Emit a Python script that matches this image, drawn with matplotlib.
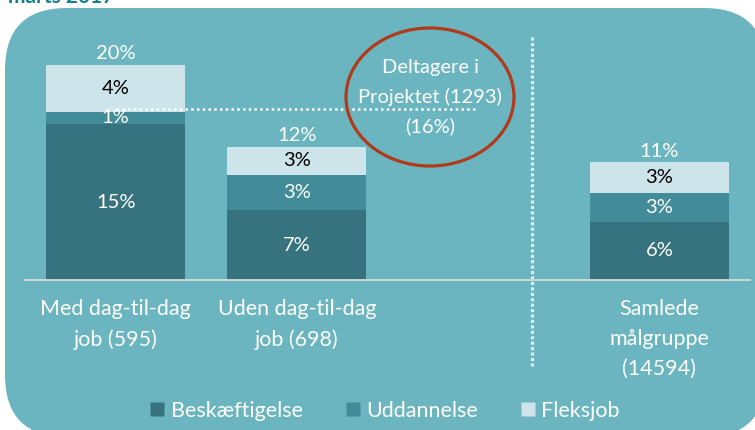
import matplotlib
matplotlib.use("Agg")
import matplotlib.pyplot as plt
from matplotlib.patches import FancyBboxPatch, Ellipse
from matplotlib.lines import Line2D
import matplotlib.transforms as mtransforms
import numpy as np

# ---- data ----
categories = ["Med dag-til-dag\njob (595)", "Uden dag-til-dag\njob (698)", "Samlede\nmålgruppe\n(14594)"]
positions = [0, 1, 3]
beskaeftigelse = [15.0, 6.7, 5.6]
uddannelse = [1.2, 3.4, 2.8]
fleksjob = [4.5, 2.7, 2.9]
lbl_besk = ["15%", "7%", "6%"]
lbl_udd = ["1%", "3%", "3%"]
lbl_fleks = ["4%", "3%", "3%"]
lbl_total = ["20%", "12%", "11%"]
series_names = ["Beskæftigelse", "Uddannelse", "Fleksjob"]
deltagere_text = "Deltagere i\nProjektet (1293)\n(16%)"
deltagere_level = 16.4
title_text = "marts 2017"

# ---- style ----
FONT = ["Lato", "DejaVu Sans"]
plt.rcParams["font.family"] = FONT
FS = 14.5      # numbers
FS_T = 15.5    # words
BG = "#6bb5c0"
C_BESK = "#37737e"
C_UDD = "#418c98"
C_FLEKS = "#cde5ea"
C_RED = "#b03a19"

W, H = 7.55, 4.30
fig = plt.figure(figsize=(W, H), dpi=100)
fig.patch.set_facecolor("white")

# rounded background panel (inches)
panel = FancyBboxPatch((0.05, -0.07), 7.61, 4.29,
                       boxstyle="round,pad=0,rounding_size=0.62",
                       transform=fig.dpi_scale_trans, facecolor=BG,
                       edgecolor="none", zorder=-5)
fig.patches.append(panel)

# title (clipped at the top, as in the source)
fig.text(8 / 755, 1 - 3 / 430, title_text, fontsize=15, fontweight="bold",
         color="#147f8f", va="baseline", ha="left", zorder=-4)

# axes: x from 25 to 750 px, baseline at 280 px, top at 30 px
ax_left = 25 / 755
ax_w = 725 / 755
ax_bottom = 1 - 280 / 430
ax_h = 250 / 430
ax = fig.add_axes([ax_left, ax_bottom, ax_w, ax_h], zorder=1)
ax.set_facecolor("none")
ax.set_xlim(-0.5, 3.5)
ax.set_ylim(0, 250 / 10.4)

bw = 0.767
b1 = ax.bar(positions, beskaeftigelse, bw, color=C_BESK, zorder=2)
b2 = ax.bar(positions, uddannelse, bw, bottom=beskaeftigelse, color=C_UDD, zorder=2)
bottom3 = np.array(beskaeftigelse) + np.array(uddannelse)
b3 = ax.bar(positions, fleksjob, bw, bottom=bottom3, color=C_FLEKS, zorder=2)

ax.bar_label(b1, labels=lbl_besk, label_type="center", color="white", fontsize=FS)
ax.bar_label(b2, labels=lbl_udd, label_type="center", color="white", fontsize=FS)
ax.bar_label(b3, labels=lbl_fleks, label_type="center", color="black", fontsize=FS)
totals = bottom3 + np.array(fleksjob)
for x, t, l in zip(positions, totals, lbl_total):
    ax.annotate(l, (x, t), xytext=(0, 4), textcoords="offset points",
                ha="center", va="baseline", color="white", fontsize=FS)

for s in ["left", "right", "top"]:
    ax.spines[s].set_visible(False)
ax.spines["bottom"].set_color("#d9d9d9")
ax.spines["bottom"].set_linewidth(1.3)
ax.set_yticks([])
ax.set_xticks(positions)
ax.set_xticklabels(categories, fontsize=FS_T, color="white", linespacing=1.62)
ax.tick_params(axis="x", length=0, pad=14)

# horizontal dotted line at participants level
ax.plot([0, 1.98], [deltagere_level] * 2, color="white", linestyle=(0, (1, 1.3)),
        linewidth=1.8, zorder=3, clip_on=False)

# vertical dotted separator
trans = mtransforms.blended_transform_factory(ax.transData, fig.transFigure)
ax.add_line(Line2D([2.295, 2.295], [1 - 37 / 430, 1 - 368 / 430], transform=trans,
                   color="#d6edf1", linestyle=(0, (1, 0.7)), linewidth=2.3,
                   clip_on=False, zorder=1))

# ellipse annotation
ell = Ellipse((430 / 755, 1 - 97 / 430), 168 / 755, 138 / 430,
              transform=fig.transFigure, facecolor="none", edgecolor=C_RED,
              linewidth=2.3, zorder=4)
fig.patches.append(ell)
fig.text(430 / 755, 1 - 97 / 430, deltagere_text, ha="center", va="center",
         color="white", fontsize=FS, linespacing=1.75, zorder=4)

# legend
handles = [Line2D([], [], marker="s", linestyle="none", markersize=9.5,
                  markerfacecolor=c, markeredgecolor="none")
           for c in (C_BESK, C_UDD, C_FLEKS)]
leg = fig.legend(handles, series_names, loc="center", ncol=3,
                 bbox_to_anchor=(385 / 755, 1 - 411 / 430), frameon=False,
                 fontsize=FS_T, handlelength=0.65, handletextpad=0.3,
                 columnspacing=2.0, borderaxespad=0)
for t in leg.get_texts():
    t.set_color("white")

fig.savefig("out.png", dpi=100, facecolor=fig.get_facecolor())
